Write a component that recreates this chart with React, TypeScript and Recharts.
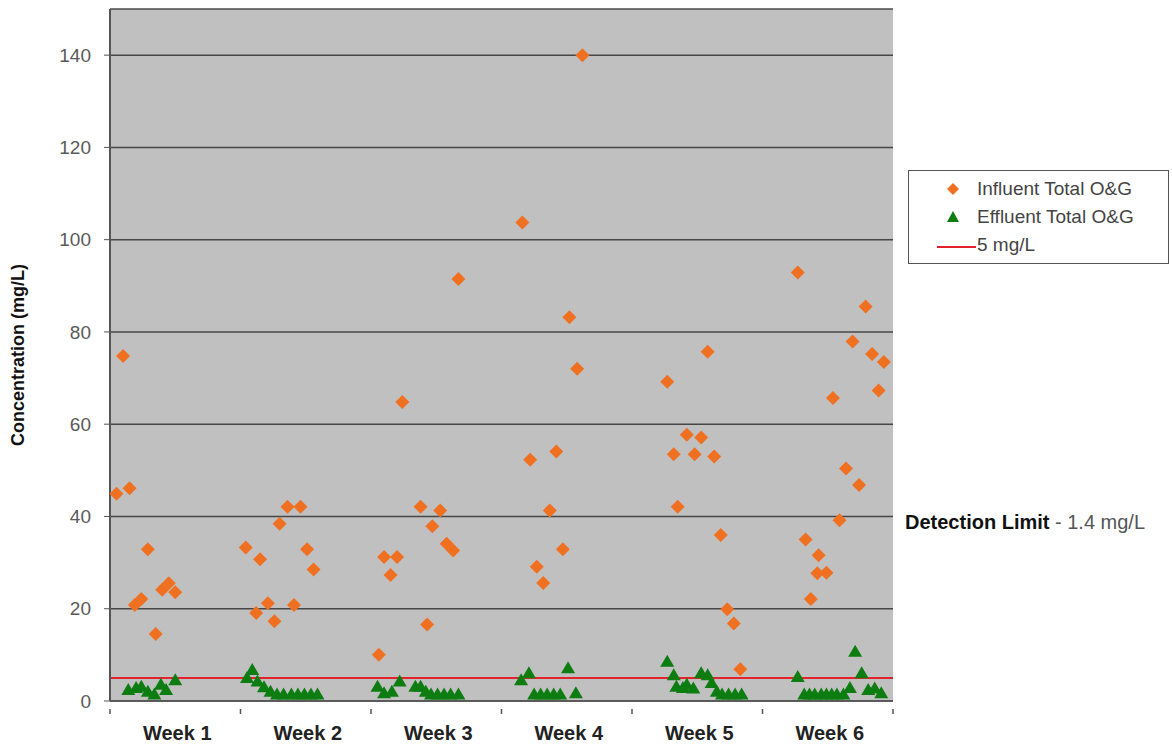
import React from 'react'
import {
  ScatterChart,
  Scatter,
  XAxis,
  YAxis,
  CartesianGrid,
  ReferenceLine,
} from 'recharts'

// sample positions are in weeks from the start of the study (0..6)
const influentWeek = [
  0.05, 0.1, 0.15, 0.19, 0.24, 0.29, 0.35, 0.4, 0.45, 0.5,
  1.04, 1.12, 1.15, 1.21, 1.26, 1.3, 1.36, 1.41, 1.46, 1.51, 1.56,
  2.06, 2.1, 2.15, 2.2, 2.24, 2.38, 2.43, 2.47, 2.53, 2.58, 2.63, 2.67,
  3.16, 3.22, 3.27, 3.32, 3.37, 3.42, 3.47, 3.52, 3.58, 3.62,
  4.27, 4.32, 4.35, 4.42, 4.48, 4.53, 4.58, 4.63, 4.68, 4.73, 4.78, 4.83,
  5.27, 5.33, 5.37, 5.42, 5.43, 5.49, 5.54, 5.59, 5.64, 5.69, 5.74, 5.79, 5.84, 5.89, 5.93,
]
const influentConc = [
  44.9, 74.8, 46.1, 20.8, 22.1, 32.9, 14.5, 24.1, 25.5, 23.6,
  33.3, 19.1, 30.7, 21.2, 17.3, 38.4, 42.1, 20.8, 42.1, 32.9, 28.5,
  10.0, 31.2, 27.3, 31.2, 64.8, 42.1, 16.6, 37.9, 41.3, 34.1, 32.6, 91.5,
  103.7, 52.3, 29.1, 25.6, 41.3, 54.1, 32.9, 83.2, 72.0, 140,
  69.2, 53.5, 42.1, 57.7, 53.5, 57.1, 75.7, 53.0, 36.0, 19.9, 16.8, 6.9,
  92.9, 35.0, 22.1, 27.7, 31.6, 27.8, 65.7, 39.2, 50.4, 77.9, 46.8, 85.5, 75.2, 67.3, 73.5,
]

const effluentWeek = [
  0.14, 0.2, 0.24, 0.29, 0.34, 0.39, 0.43, 0.5,
  1.05, 1.09, 1.13, 1.18, 1.23, 1.28, 1.33, 1.39, 1.44, 1.49, 1.54, 1.59,
  2.05, 2.1, 2.16, 2.22, 2.34, 2.38, 2.42, 2.46, 2.51, 2.56, 2.61, 2.67,
  3.15, 3.21, 3.25, 3.3, 3.35, 3.4, 3.45, 3.51, 3.57,
  4.27, 4.32, 4.34, 4.39, 4.42, 4.47, 4.53, 4.58, 4.61, 4.65, 4.69, 4.74, 4.79, 4.84,
  5.27, 5.32, 5.36, 5.4, 5.45, 5.49, 5.53, 5.57, 5.62, 5.67, 5.71, 5.76, 5.81, 5.86, 5.91,
]
const effluentConc = [
  2.4, 2.8, 3.1, 2.0, 1.4, 3.5, 2.4, 4.5,
  5.0, 6.7, 4.2, 3.0, 2.0, 1.4, 1.4, 1.4, 1.4, 1.4, 1.4, 1.4,
  3.1, 1.7, 2.0, 4.2, 3.1, 3.1, 2.0, 1.4, 1.4, 1.4, 1.4, 1.4,
  4.5, 6.0, 1.4, 1.4, 1.4, 1.4, 1.4, 7.1, 1.7,
  8.5, 5.6, 3.1, 2.8, 3.5, 2.7, 6.0, 5.6, 3.9, 2.0, 1.4, 1.4, 1.4, 1.4,
  5.2, 1.4, 1.4, 1.4, 1.4, 1.4, 1.4, 1.4, 1.4, 2.8, 10.7, 6.0, 2.4, 2.7, 1.7,
]

const weekLabels = ['Week 1', 'Week 2', 'Week 3', 'Week 4', 'Week 5', 'Week 6']
const weekTicks = [0, 1, 2, 3, 4, 5, 6]
const concTicks = [0, 20, 40, 60, 80, 100, 120, 140]
const limitValue = 5
const seriesNames = ['Influent Total O&G', 'Effluent Total O&G', '5 mg/L']

const influentData = influentWeek.map((week, i) => ({ week, conc: influentConc[i] }))
const effluentData = effluentWeek.map((week, i) => ({ week, conc: effluentConc[i] }))

const W = 1172
const H = 749
const MARGIN = { top: 9, right: 279, bottom: 8, left: 40 }
const Y_AXIS_W = 70
const PLOT_W = W - MARGIN.left - Y_AXIS_W - MARGIN.right

const FONT = 'Arial, "Liberation Sans", sans-serif'
const ORANGE = '#f07022'
const GREEN = '#0d7d12'
const RED = '#e3232b'

function Diamond(props: any) {
  const { cx, cy } = props
  const r = 7
  return (
    <polygon
      points={`${cx},${cy - r} ${cx + r},${cy} ${cx},${cy + r} ${cx - r},${cy}`}
      fill={ORANGE}
    />
  )
}

function Triangle(props: any) {
  const { cx, cy } = props
  return (
    <polygon
      points={`${cx},${cy - 7} ${cx + 7},${cy + 5} ${cx - 7},${cy + 5}`}
      fill={GREEN}
    />
  )
}

function WeekTick(props: any) {
  const { x, y, payload } = props
  const idx = payload.value as number
  const half = PLOT_W / 12
  return (
    <g>
      <line x1={x} y1={y} x2={x} y2={y + 5} stroke="#555" strokeWidth={1.5} />
      {idx < weekLabels.length && (
        <text
          x={x + half + 2}
          y={y + 31}
          textAnchor="middle"
          fontSize={20}
          fontWeight="bold"
          fill="#222"
          fontFamily={FONT}
        >
          {weekLabels[idx]}
        </text>
      )}
    </g>
  )
}

function YTitle(props: any) {
  const { viewBox } = props
  const x = viewBox.x - 16
  const y = viewBox.y + viewBox.height / 2
  return (
    <text
      x={x}
      y={y}
      transform={`rotate(-90, ${x}, ${y})`}
      textAnchor="middle"
      fontSize={18}
      fontWeight="bold"
      fill="#111"
      fontFamily={FONT}
    >
      Concentration (mg/L)
    </text>
  )
}

export default function App() {
  return (
    <div
      style={{
        position: 'absolute',
        left: 0,
        top: 0,
        width: W,
        height: H,
        background: '#fff',
        fontFamily: FONT,
      }}
    >
      <ScatterChart width={W} height={H} margin={MARGIN}>
        <CartesianGrid
          horizontal
          vertical={false}
          fill="#c0c0c0"
          stroke="#3a3a3a"
          strokeWidth={1.5}
          strokeOpacity={0.9}
        />
        <XAxis
          type="number"
          dataKey="week"
          domain={[0, 6]}
          ticks={weekTicks}
          interval={0}
          tick={<WeekTick />}
          tickLine={false}
          axisLine={{ stroke: '#555', strokeWidth: 1.5 }}
          height={40}
        />
        <YAxis
          type="number"
          dataKey="conc"
          domain={[0, 150]}
          ticks={concTicks}
          interval={0}
          width={Y_AXIS_W}
          tickSize={6}
          tickMargin={13}
          tickLine={{ stroke: '#555' }}
          axisLine={{ stroke: '#555', strokeWidth: 2 }}
          tick={{ fontSize: 19, fill: '#5a5a5a', fontFamily: FONT }}
          label={{ content: <YTitle /> }}
        />
        <ReferenceLine y={limitValue} stroke={RED} strokeWidth={2} ifOverflow="extendDomain" />
        <Scatter
          name={seriesNames[0]}
          data={influentData}
          shape={<Diamond />}
          isAnimationActive={false}
        />
        <Scatter
          name={seriesNames[1]}
          data={effluentData}
          shape={<Triangle />}
          isAnimationActive={false}
        />
      </ScatterChart>

      <div
        style={{
          position: 'absolute',
          left: 908,
          top: 170,
          width: 261,
          height: 94,
          border: '1px solid #555',
          boxSizing: 'border-box',
        }}
      >
        <svg width={259} height={92} style={{ position: 'absolute', left: 0, top: 0 }}>
          <polygon points="44,12 50,18 44,24 38,18" fill={ORANGE} />
          <polygon points="44,40 50,51 38,51" fill={GREEN} />
          <line x1={28} y1={76} x2={67} y2={76} stroke={RED} strokeWidth={2} />
          <text x={68} y={24} fontSize={19} fill="#444" fontFamily={FONT}>
            {seriesNames[0]}
          </text>
          <text x={68} y={52} fontSize={19} fill="#444" fontFamily={FONT}>
            {seriesNames[1]}
          </text>
          <text x={68} y={80} fontSize={19} fill="#444" fontFamily={FONT}>
            {seriesNames[2]}
          </text>
        </svg>
      </div>

      <div
        style={{
          position: 'absolute',
          left: 905,
          top: 511,
          fontSize: 20,
          fontFamily: FONT,
          whiteSpace: 'nowrap',
        }}
      >
        <span style={{ fontWeight: 'bold', color: '#111' }}>Detection Limit</span>
        <span style={{ color: '#555' }}> - 1.4 mg/L</span>
      </div>
    </div>
  )
}
